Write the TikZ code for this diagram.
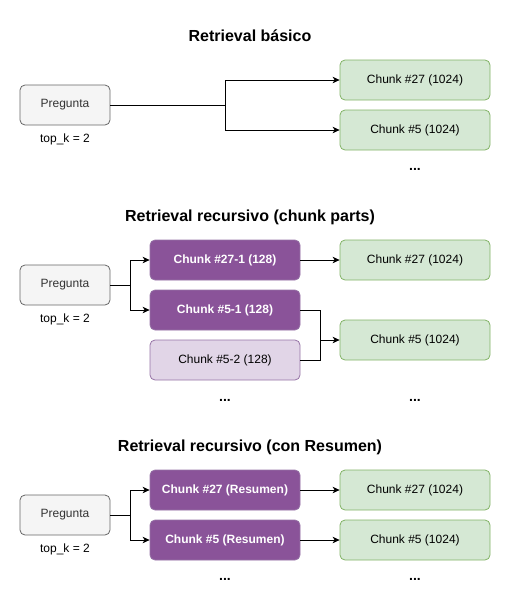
\documentclass[tikz,border=0pt]{standalone}
\usepackage{fontspec}
\setmainfont{Liberation Sans}
\usetikzlibrary{arrows.meta}
\definecolor{qfill}{HTML}{F5F5F5}
\definecolor{qline}{HTML}{666666}
\definecolor{qtext}{HTML}{333333}
\definecolor{gfill}{HTML}{D5E8D4}
\definecolor{gline}{HTML}{82B366}
\definecolor{pfill}{HTML}{8A5399}
\definecolor{pline}{HTML}{9673A6}
\definecolor{lpfill}{HTML}{E1D5E7}
\tikzset{
  box/.style={draw, rounded corners=5pt, line width=0.8pt, minimum width=90pt, minimum height=40pt, inner sep=0pt, font=\fontsize{12}{14}\selectfont},
  qbox/.style={box, fill=qfill, draw=qline, text=qtext, minimum width=90pt},
  gbox/.style={box, fill=gfill, draw=gline, text=black, minimum width=150pt},
  pbox/.style={box, fill=pfill, draw=pline, text=white, minimum width=150pt, font=\fontsize{12}{14}\selectfont\bfseries},
  lpbox/.style={box, fill=lpfill, draw=pline, text=black, minimum width=150pt},
  ttl/.style={anchor=base, font=\fontsize{16}{19}\selectfont\bfseries, inner sep=0pt},
  note/.style={anchor=base, font=\fontsize{12}{14}\selectfont, inner sep=0pt},
  dots/.style={anchor=base, font=\fontsize{14}{16}\selectfont\bfseries, inner sep=0pt},
  conn/.style={line width=0.8pt, draw=black},
  arr/.style={conn, -{Stealth[length=7pt, width=6.5pt, inset=2pt]}}
}
\begin{document}
\begin{tikzpicture}[x=1pt, y=-1pt]
\useasboundingbox (0,0) rectangle (510,600);

% ---------- Section 1 ----------
\node[ttl] (t1) at (250,41.3) {Retrieval básico};
\node[qbox] (p1) at (65,105) {Pregunta};
\node[note] (k1) at (65,142.5) {top\_k = 2};
\node[gbox] (a27) at (415,80) {Chunk \#27 (1024)};
\node[gbox] (a5) at (415,130) {Chunk \#5 (1024)};
\node[dots] (d1) at (415,170.5) {...};
\coordinate (s1) at (225.5,105);
\draw[conn] (p1.east) -- (s1);
\draw[arr] (s1) |- (a27.west);
\draw[arr] (s1) |- (a5.west);

% ---------- Section 2 ----------
\node[ttl] (t2) at (250,221.3) {Retrieval recursivo (chunk parts)};
\node[qbox] (p2) at (65,285) {Pregunta};
\node[note] (k2) at (65,322.5) {top\_k = 2};
\node[pbox] (r27) at (225,260) {Chunk \#27-1 (128)};
\node[pbox] (r51) at (225,310) {Chunk \#5-1 (128)};
\node[lpbox] (r52) at (225,360) {Chunk \#5-2 (128)};
\node[gbox] (b27) at (415,260) {Chunk \#27 (1024)};
\node[gbox] (b5) at (415,340) {Chunk \#5 (1024)};
\node[dots] (d2a) at (225,401) {...};
\node[dots] (d2b) at (415,401) {...};
\coordinate (s2) at (130.5,285);
\coordinate (m2) at (320.5,340);
\draw[conn] (p2.east) -- (s2);
\draw[arr] (s2) |- (r27.west);
\draw[arr] (s2) |- (r51.west);
\draw[arr] (r27.east) -- (b27.west);
\draw[conn] (r51.east) -| (m2);
\draw[conn] (r52.east) -| (m2);
\draw[arr] (m2) -- (b5.west);

% ---------- Section 3 ----------
\node[ttl] (t3) at (250,451.3) {Retrieval recursivo (con Resumen)};
\node[qbox] (p3) at (65,515) {Pregunta};
\node[note] (k3) at (65,552.5) {top\_k = 2};
\node[pbox] (u27) at (225,490) {Chunk \#27 (Resumen)};
\node[pbox] (u5) at (225,540) {Chunk \#5 (Resumen)};
\node[gbox] (c27) at (415,490) {Chunk \#27 (1024)};
\node[gbox] (c5) at (415,540) {Chunk \#5 (1024)};
\node[dots] (d3a) at (225,580.5) {...};
\node[dots] (d3b) at (415,580.5) {...};
\coordinate (s3) at (130.5,515);
\draw[conn] (p3.east) -- (s3);
\draw[arr] (s3) |- (u27.west);
\draw[arr] (s3) |- (u5.west);
\draw[arr] (u27.east) -- (c27.west);
\draw[arr] (u5.east) -- (c5.west);
\end{tikzpicture}
\end{document}
